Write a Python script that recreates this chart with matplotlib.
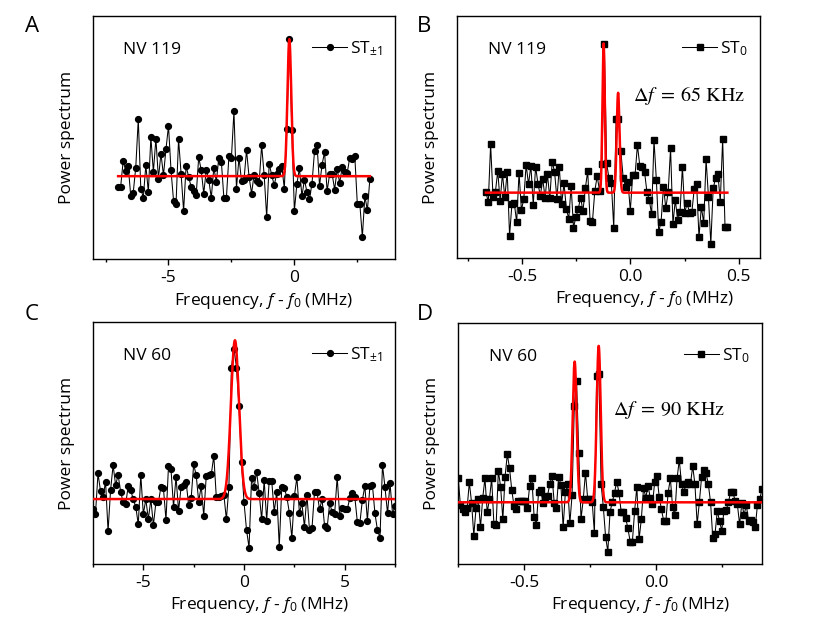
import numpy as np
import matplotlib.pyplot as plt
from matplotlib.ticker import MultipleLocator, NullLocator

plt.rcParams['font.family'] = ['Open Sans', 'DejaVu Sans']
plt.rcParams['mathtext.fontset'] = 'custom'
plt.rcParams['mathtext.rm'] = 'Open Sans'
plt.rcParams['mathtext.it'] = 'Open Sans:italic'
plt.rcParams['mathtext.bf'] = 'Open Sans:bold'
plt.rcParams['axes.unicode_minus'] = False

# --- data (arbitrary units, baseline = 0) ---
# A: NV 119, ST+-1, frequency -7 .. 3 MHz
freq_a = (-7.0, 3.0)
power_a = [-32, -32, 46, 16, 32, -59, -49, 26, 171, -37, -64, 33, -47, 117, 13, 113,
           -7, 68, 3, 81, 151, 18, -73, -82, 111, 8, -104, 31, -2, -32, -44, -56,
           57, 18, -52, 18, -11, -65, 25, -16, 56, 43, -65, -65, 60, 56, 195, -37,
           56, -14, -10, 78, -2, -52, 5, -15, -20, 93, 3, -122, 38, 3, -27, 8,
           23, 31, -37, 142, 411, 138, -104, -23, 24, -60, -10, -48, -69, -22, 75, 95,
           -29, 35, 72, -45, 6, 6, -40, 21, -20, 27, 12, 10, 56, 51, 60, -83,
           -84, -182, -60, -102, -7]
fit_a = [(-0.2, 411, 0.075)]

# B: NV 119, ST0, frequency -0.668 .. 0.448 MHz
freq_b = (-0.668, 0.448)
power_b = [3, -29, 145, -12, 1, 65, -25, 56, -14, 63, -129, -34, -32, -89, 60, -52,
           -19, 84, 25, 81, -37, 78, 26, -9, 41, -15, 55, -17, 93, 63, -19, 78,
           -34, 28, -50, -78, 20, -105, -74, -49, -15, -55, 13, 65, -84, -87, 5, 50,
           6, 86, 448, 88, 43, 28, -105, 221, 221, 125, 43, 18, 33, -54, 53, 53,
           143, 81, 78, 63, 3, -22, -65, 158, 38, -117, -87, 18, -47, 3, 133, -94,
           -22, -82, -59, 78, -60, -32, -60, -57, 11, 26, -134, -42, -92, 100, -12, -154,
           13, 43, 56, -27, 161, -104, -104]
fit_b = [(-0.124, 448, 0.0055), (-0.057, 300, 0.0065)]

# C: NV 60, ST+-1, frequency -7.5 .. 7.5 MHz
freq_c = (-7.5, 7.5)
power_c = [-30, -45, 77, 24, 7, 52, -96, 27, 102, 42, 72, 22, -10, -15, 39, 27,
           -1, -23, -76, 72, -45, -1, -60, -1, -78, -10, -10, 37, 32, -63, 99, 89,
           -23, 67, -35, 35, 42, 52, -18, 2, 104, 72, -8, 40, -50, 70, 72, 74,
           130, 5, 7, 9, 12, -61, 37, 395, 452, 395, 279, 112, -10, -93, -146, 64,
           35, 82, 19, -61, 57, -65, 55, 54, -38, 22, -143, 37, 32, 7, -41, -116,
           9, 65, -41, -13, -83, 12, -93, -88, 22, 20, -31, -1, -81, -88, -13, -38,
           -45, 67, -51, -28, -31, -31, 2, 17, 7, -68, -73, -3, 39, -65, 39, 42,
           -43, -93, -116, 102, 35, -43, 47, -45, -21]
fit_c = [(-0.45, 477, 0.2)]

# D: NV 60, ST0, frequency -0.75 .. 0.40 MHz
freq_d = (-0.75, 0.40)
power_d = [74, -8, -21, -30, -18, 60, -1, -100, -18, 9, -75, 14, 72, -30, 9, 72,
           -66, -68, 94, 47, -51, 77, 144, 102, 37, -11, -21, 4, 4, 5, 4, -18,
           49, 72, -43, -68, 32, 37, -3, 17, 20, 54, 80, -1, -16, 77, 52, -75,
           30, 54, -63, 22, 289, 365, 147, -50, 9, 89, 9, 9, 2, -93, 380, 384,
           55, -15, -103, -148, -28, 0, 29, 62, 29, -30, -30, -48, -78, -118, -118, -26,
           47, -111, -51, 44, 14, 49, 14, -6, 62, 80, 17, -21, -56, -56, 29, 72,
           -15, -38, 72, 127, 54, 30, 54, 60, 54, 109, 54, -66, 2, 77, 97, 87,
           54, 0, -108, -95, -26, -56, -85, -26, -23, 0, 32, 32, 4, -6, -66, -3,
           -38, -8, -56, -53, -58, -73, -8, 9, 39]
fit_d = [(-0.309, 422, 0.0075), (-0.218, 469, 0.0075)]


def gauss_fit(x, peaks):
    y = np.zeros_like(x)
    for c, amp, sig in peaks:
        y += amp * np.exp(-(x - c) ** 2 / (2 * sig ** 2))
    return y


panels = [
    dict(rect=[0.112, 0.584, 0.364, 0.390], letter='A', lpos=(0.030, 0.975),
         freq=freq_a, power=power_a, fit=fit_a, marker='o', leg=r'ST$_{\pm1}$',
         nv='NV 119', xlim=(-8, 4), ylim=(-249, 480), major=5, minor=2.5,
         xlab_x=0.565, df=None),
    dict(rect=[0.551, 0.586, 0.365, 0.388], letter='B', lpos=(0.502, 0.975),
         freq=freq_b, power=power_b, fit=fit_b, marker='s', leg=r'ST$_0$',
         nv='NV 119', xlim=(-0.8, 0.6), ylim=(-196, 530), major=0.5, minor=0.25,
         xlab_x=0.617, df=(r'$\Delta f\;=\;65\ \mathrm{KHz}$', 0.58, 0.67)),
    dict(rect=[0.112, 0.0947, 0.364, 0.388], letter='C', lpos=(0.030, 0.512),
         freq=freq_c, power=power_c, fit=fit_c, marker='o', leg=r'ST$_{\pm1}$',
         nv='NV 60', xlim=(-7.5, 7.5), ylim=(-195, 531), major=5, minor=2.5,
         xlab_x=0.55, df=None),
    dict(rect=[0.552, 0.0947, 0.366, 0.387], letter='D', lpos=(0.502, 0.512),
         freq=freq_d, power=power_d, fit=fit_d, marker='s', leg=r'ST$_0$',
         nv='NV 60', xlim=(-0.75, 0.4), ylim=(-185, 538), major=0.5, minor=0.25,
         xlab_x=0.599, df=(r'$\Delta f\;=\;90\ \mathrm{KHz}$', 0.51, 0.64)),
]

fig = plt.figure(figsize=(8.3, 6.23), dpi=100)

for p in panels:
    ax = fig.add_axes(p['rect'])
    x = np.linspace(p['freq'][0], p['freq'][1], len(p['power']))
    ax.plot(x, p['power'], color='black', lw=0.75, marker=p['marker'],
            ms=4.2 if p['marker'] == 'o' else 3.9, label=p['leg'], zorder=2)
    xf = np.linspace(p['freq'][0], p['freq'][1], 3000)
    ax.plot(xf, gauss_fit(xf, p['fit']), color='red', lw=1.8, zorder=3)

    ax.set_xlim(*p['xlim'])
    ax.set_ylim(*p['ylim'])
    ax.xaxis.set_major_locator(MultipleLocator(p['major']))
    ax.xaxis.set_minor_locator(MultipleLocator(p['minor']))
    ax.yaxis.set_major_locator(NullLocator())
    ax.tick_params(axis='x', which='major', direction='out', length=4, width=1,
                   labelsize=12.5, pad=4)
    ax.tick_params(axis='x', which='minor', direction='out', length=2.5, width=1)
    for s in ax.spines.values():
        s.set_linewidth(1.0)

    ax.set_xlabel(r'Frequency, $f$ - $f_0$ (MHz)', fontsize=12.5)
    ax.xaxis.set_label_coords(p['xlab_x'], -0.13)
    ax.set_ylabel('Power spectrum', fontsize=12.5)
    ax.yaxis.set_label_coords(-0.06, 0.5)

    ax.text(0.1, 0.86, p['nv'], transform=ax.transAxes, fontsize=12.5,
            va='center', ha='left')
    ax.legend(loc='upper right', bbox_to_anchor=(1.0, 0.955), frameon=False,
              fontsize=12.5, handlelength=2.0, handletextpad=0.2, borderaxespad=0.3)
    if p['df'] is not None:
        ax.text(p['df'][1], p['df'][2], p['df'][0], transform=ax.transAxes,
                fontsize=14.5, math_fontfamily='stix', va='center', ha='left')

    fig.text(p['lpos'][0], p['lpos'][1], p['letter'], fontsize=16,
             va='top', ha='left')

fig.savefig('out.png', dpi=100)
